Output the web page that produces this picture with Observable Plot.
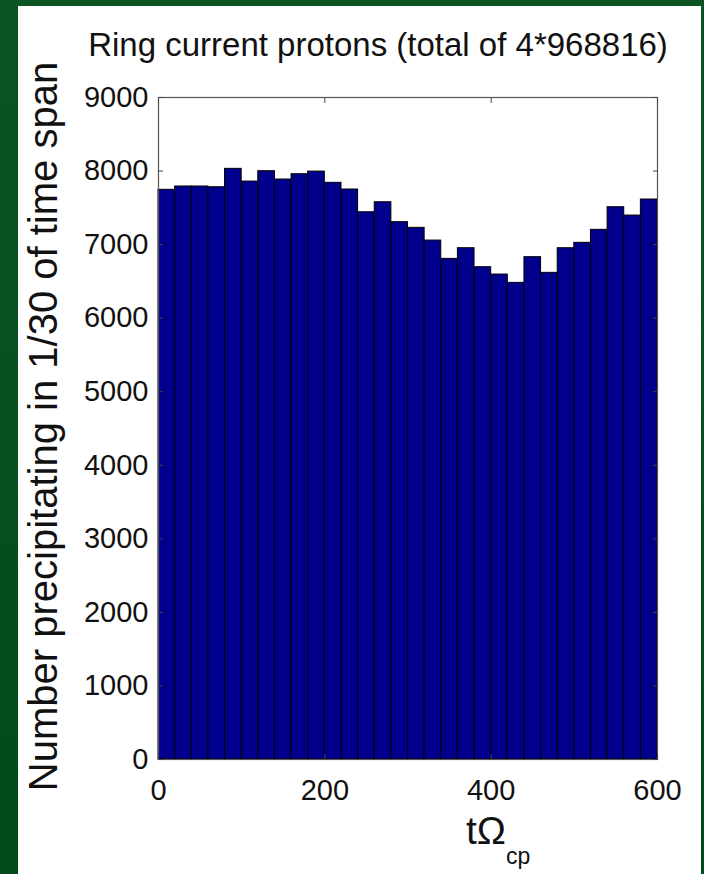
<!DOCTYPE html>
<html>
<head>
<meta charset="utf-8">
<script src="https://cdn.jsdelivr.net/npm/d3@7"></script>
<script src="https://cdn.jsdelivr.net/npm/@observablehq/plot@0.6"></script>
<style>
  html, body { margin: 0; padding: 0; }
  body {
    width: 704px; height: 874px; overflow: hidden; position: relative;
    background: linear-gradient(180deg, #0a5424 0%, #04501f 50%, #004a1c 100%);
  }
  #panel { position: absolute; left: 18px; top: 6px; width: 683px; height: 868px; background: #fff; }
  #panel svg { display: block; }
</style>
</head>
<body>
<div id="panel"></div>
<script>
// Bin edges (tΩ_cp), 30 bins of width 20
const binStart = [0,20,40,60,80,100,120,140,160,180,200,220,240,260,280,300,320,340,360,380,400,420,440,460,480,500,520,540,560,580];
const binEnd   = [20,40,60,80,100,120,140,160,180,200,220,240,260,280,300,320,340,360,380,400,420,440,460,480,500,520,540,560,580,600];
// Number precipitating in each bin
const counts = [7745,7790,7790,7780,8030,7857,7998,7885,7957,7993,7840,7749,7440,7576,7305,7228,7055,6806,6951,6693,6593,6480,6829,6616,6951,7024,7201,7508,7395,7613];
const xTicks = [0,200,400,600];
const yTicks = [0,1000,2000,3000,4000,5000,6000,7000,8000,9000];
const titleText = "Ring current protons (total of 4*968816)";
const yLabel = "Number precipitating in 1/30 of time span";
const xLabelMain = "tΩ";
const xLabelSub = "cp";

const bins = counts.map((c, i) => ({x1: binStart[i], x2: binEnd[i], y: c}));
const font = "'Liberation Sans', Arial, Helvetica, sans-serif";

const chart = Plot.plot({
  width: 683,
  height: 868,
  marginLeft: 140,
  marginRight: 44,
  marginTop: 91,
  marginBottom: 115,
  style: {fontFamily: font, color: "#111", background: "#fff", overflow: "visible"},
  x: {domain: [0, 600], ticks: xTicks},
  y: {domain: [0, 9000], ticks: yTicks},
  marks: [
    Plot.rectY(bins, {x1: "x1", x2: "x2", y: "y", fill: "#00008c", stroke: "#000", strokeWidth: 1, inset: 0}),
    Plot.frame({stroke: "#555", strokeWidth: 1.2}),
    // inward ticks
    Plot.axisY({anchor: "left", ticks: yTicks, tickSize: -5, tickFormat: () => "", stroke: "#444", label: null}),
    Plot.axisY({anchor: "right", ticks: yTicks, tickSize: -5, tickFormat: () => "", stroke: "#444", label: null}),
    Plot.axisX({anchor: "top", ticks: xTicks, tickSize: -5, tickFormat: () => "", stroke: "#444", label: null}),
    Plot.axisX({anchor: "bottom", ticks: xTicks, tickSize: -5, tickFormat: () => "", stroke: "#444", label: null}),
    // tick labels
    Plot.axisY({anchor: "left", ticks: yTicks, tickSize: 0, tickPadding: 10, fontSize: 29, label: null, tickFormat: d => String(d)}),
    Plot.axisX({anchor: "bottom", ticks: xTicks, tickSize: 0, tickPadding: 20, fontSize: 29, label: null, tickFormat: d => String(d)}),
    // title
    Plot.text([titleText], {frameAnchor: "top", dx: -30, dy: -42, lineAnchor: "bottom", fontSize: 33, fill: "#111", text: d => d}),
    // y label
    Plot.text([yLabel], {frameAnchor: "left", dx: -114, dy: -2, rotate: -90, textAnchor: "middle", lineAnchor: "middle", fontSize: 40, fill: "#111", text: d => d}),
    // x label
    Plot.text([xLabelMain], {frameAnchor: "bottom", dx: 98, dy: 84, textAnchor: "end", lineAnchor: "bottom", fontSize: 39, fill: "#111", text: d => d}),
    Plot.text([xLabelSub], {frameAnchor: "bottom", dx: 98, dy: 104, textAnchor: "start", lineAnchor: "bottom", fontSize: 23, fill: "#111", text: d => d})
  ]
});
document.getElementById("panel").appendChild(chart);
</script>
</body>
</html>
